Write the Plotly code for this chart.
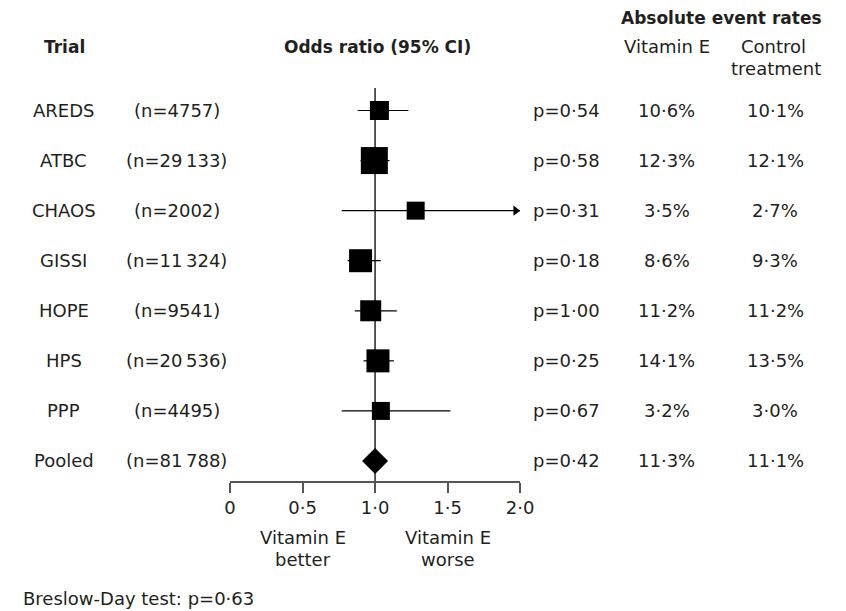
import plotly.graph_objects as go

# ---------------- data ----------------
trials = ["AREDS", "ATBC", "CHAOS", "GISSI", "HOPE", "HPS", "PPP", "Pooled"]
n_labels = ["(n=4757)", "(n=29\u2009133)", "(n=2002)", "(n=11\u2009324)",
            "(n=9541)", "(n=20\u2009536)", "(n=4495)", "(n=81\u2009788)"]
odds_ratio = [1.03, 0.995, 1.28, 0.90, 0.97, 1.02, 1.04, 1.00]
ci_low = [0.88, 0.90, 0.77, 0.81, 0.86, 0.92, 0.77, None]
ci_high = [1.23, 1.10, 2.40, 1.04, 1.15, 1.13, 1.52, None]
p_values = ["p=0·54", "p=0·58", "p=0·31", "p=0·18", "p=1·00", "p=0·25", "p=0·67", "p=0·42"]
rate_vitE = ["10·6%", "12·3%", "3·5%", "8·6%", "11·2%", "14·1%", "3·2%", "11·3%"]
rate_ctrl = ["10·1%", "12·1%", "2·7%", "9·3%", "11·2%", "13·5%", "3·0%", "11·1%"]
tick_vals = [0, 0.5, 1.0, 1.5, 2.0]
tick_text = ["0", "0·5", "1·0", "1·5", "2·0"]

# ---------------- style ----------------
W, H = 846, 611
FONT = "DejaVu Sans"
TXT = "#231f20"
FS = 18
BFS = 17
box_sizes = [19, 27, 18, 23, 21, 23, 18]
ROW0, ROWSTEP = 110.5, 50.07
AX_Y = 482          # pixel of OR axis line
AX_X0, AX_X1 = 229.5, 526.5
X_MAX = 2.0


def py(px):  # pixel from top -> paper fraction
    return 1 - px / H


def pxx(px):
    return px / W


rows = list(range(len(trials)))
study_rows = rows[:-1]

fig = go.Figure()

# CI lines (clipped to the axis maximum)
for i in study_rows:
    lo, hi = ci_low[i], ci_high[i]
    fig.add_trace(go.Scatter(
        x=[lo, min(hi, X_MAX)], y=[i, i], mode="lines",
        line=dict(color="black", width=1.2),
        xaxis="x2", yaxis="y", hoverinfo="skip", showlegend=False, cliponaxis=False))

# arrow heads for CIs beyond the axis
arrow_rows = [i for i in study_rows if ci_high[i] > X_MAX]
fig.add_trace(go.Scatter(
    x=[X_MAX - 0.03 for _ in arrow_rows], y=arrow_rows, mode="markers",
    marker=dict(symbol="triangle-right", size=9, color="black", opacity=1, line=dict(width=0)),
    xaxis="x2", yaxis="y", hoverinfo="skip", showlegend=False, cliponaxis=False))

# study squares
fig.add_trace(go.Scatter(
    x=[odds_ratio[i] for i in study_rows], y=study_rows, mode="markers",
    marker=dict(symbol="square", size=box_sizes, color="black", opacity=1, line=dict(width=0)),
    xaxis="x2", yaxis="y", showlegend=False, cliponaxis=False))

# pooled diamond
fig.add_trace(go.Scatter(
    x=[odds_ratio[-1]], y=[rows[-1]], mode="markers",
    marker=dict(symbol="diamond", size=20, color="black", opacity=1, line=dict(width=0)),
    xaxis="x2", yaxis="y", showlegend=False, cliponaxis=False))

# vertical line of no effect
fig.add_shape(type="line", xref="x2", yref="paper", x0=1, x1=1,
              y0=py(AX_Y), y1=py(88), line=dict(color="black", width=1.3), layer="below")

ann = []


def A(text, x, y, xref="paper", yref="paper", anchor="center", bold=False, size=None):
    ann.append(dict(text=f"<b>{text}</b>" if bold else text, x=x, y=y, xref=xref, yref=yref,
                    xanchor=anchor, yanchor="middle", showarrow=False,
                    font=dict(family=FONT, size=size or (BFS if bold else FS), color=TXT)))


# headers
A("Trial", pxx(60), py(47), bold=True)
A("Odds ratio (95% CI)", pxx(381), py(47), bold=True)
A("Absolute event rates", pxx(733), py(18), bold=True)
A("Vitamin E", pxx(677), py(47))
A("Control", pxx(786), py(47))
A("treatment", pxx(789), py(68))

# row texts
for i in rows:
    A(trials[i], pxx(59), i, yref="y")
    A(n_labels[i], pxx(175), i, yref="y")
    A(p_values[i], pxx(538), i, yref="y", anchor="left")
    A(rate_vitE[i], pxx(677), i, yref="y")
    A(rate_ctrl[i], pxx(788), i, yref="y")

# axis captions
A("Vitamin E", 0.5, py(537), xref="x2")
A("better", 0.5, py(559), xref="x2")
A("Vitamin E", 1.5, py(537), xref="x2")
A("worse", 1.5, py(559), xref="x2")
A("Breslow-Day test: p=0·63", pxx(15), py(598), anchor="left")

n_rows_top = -ROW0 / ROWSTEP
n_rows_bot = (H - ROW0) / ROWSTEP

fig.update_layout(
    width=W, height=H, margin=dict(l=0, r=0, t=0, b=0),
    paper_bgcolor="white", plot_bgcolor="rgba(0,0,0,0)",
    showlegend=False, annotations=ann,
    xaxis=dict(visible=False, range=[0, 1], domain=[0, 1]),
    yaxis=dict(visible=False, range=[n_rows_bot, n_rows_top], domain=[0, 1]),
    xaxis2=dict(domain=[AX_X0 / W, AX_X1 / W], range=[0, X_MAX], anchor="free",
                position=py(AX_Y), showgrid=False, zeroline=False,
                showline=True, linecolor="#555555", linewidth=1.5,
                ticks="outside", ticklen=10, tickwidth=1.5, tickcolor="#555555",
                tickvals=tick_vals, ticktext=tick_text,
                tickfont=dict(family=FONT, size=FS, color=TXT)),
)

fig.write_html("out.html")
